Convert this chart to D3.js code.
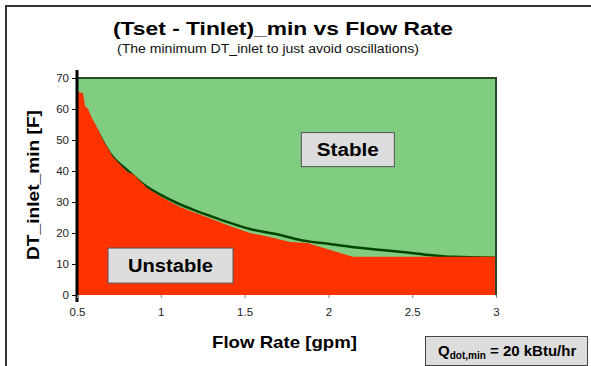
<!DOCTYPE html>
<html>
<head>
<meta charset="utf-8">
<script src="https://cdn.jsdelivr.net/npm/d3@7"></script>
<style>
  html, body { margin: 0; padding: 0; background: #fff; }
  svg { display: block; font-family: Arial, "Liberation Sans", sans-serif; }
</style>
</head>
<body>
<svg id="chart" width="591" height="366"></svg>
<script>
// Region below the minimum inlet temperature difference (oscillating operation)
const unstableFlow = [0.5, 0.5, 0.506, 0.536, 0.548, 0.566, 0.59, 0.62, 0.655, 0.715, 0.80, 0.834, 0.918, 1.013, 1.115, 1.2, 1.3, 1.4, 1.532, 1.651, 1.771, 1.878, 1.908, 2.147, 3.0, 3.0];
const unstableDT   = [0, 48, 65.5, 65.2, 61, 60, 57, 54, 50, 44.5, 39.7, 39, 34.5, 31.3, 28.4, 26.6, 24.6, 22.5, 20.0, 18.7, 17.1, 16.8, 16.2, 12.3, 12.3, 0];

// Stability boundary curve
const boundaryFlow = [0.62, 0.65, 0.7, 0.8, 0.9, 1.0, 1.1, 1.2, 1.3, 1.4, 1.532, 1.7, 1.835, 2.0, 2.14, 2.3, 2.44, 2.62, 2.74, 3.0];
const boundaryDT   = [53, 50, 45.5, 40.3, 35.6, 32.3, 29.6, 27.4, 25.4, 23.5, 21.3, 19.5, 17.7, 16.5, 15.5, 14.6, 13.9, 12.8, 12.3, 12.0];

const xTicks = [0.5, 1, 1.5, 2, 2.5, 3];
const yTicks = [0, 10, 20, 30, 40, 50, 60, 70];

const svg = d3.select("#chart");

const x = d3.scaleLinear().domain([0.5, 3]).range([77, 496]);
const y = d3.scaleLinear().domain([0, 70]).range([295, 78]);

// Outer frame (top and left edges)
svg.append("path")
  .attr("d", "M6,366 L6,6 L591,6")
  .attr("fill", "none").attr("stroke", "#333").attr("stroke-width", 2);

// Titles
svg.append("text").attr("x", 283).attr("y", 35).attr("text-anchor", "middle")
  .attr("font-size", 18).attr("font-weight", "bold").attr("fill", "#000")
  .attr("textLength", 340).attr("lengthAdjust", "spacingAndGlyphs")
  .text("(Tset - Tinlet)_min vs Flow Rate");
svg.append("text").attr("x", 268).attr("y", 53).attr("text-anchor", "middle")
  .attr("font-size", 12.5).attr("fill", "#111")
  .attr("textLength", 302).attr("lengthAdjust", "spacingAndGlyphs")
  .text("(The minimum DT_inlet to just avoid oscillations)");

// Stable background (whole plot area)
svg.append("rect")
  .attr("x", x(0.5)).attr("y", y(70))
  .attr("width", x(3) - x(0.5)).attr("height", y(0) - y(70))
  .attr("fill", "#80cc80");

// Boundary line
const boundary = boundaryFlow.map((f, i) => [f, boundaryDT[i]]);
svg.append("path")
  .datum(boundary)
  .attr("d", d3.line().x(d => x(d[0])).y(d => y(d[1])).curve(d3.curveMonotoneX))
  .attr("fill", "none").attr("stroke", "#004400").attr("stroke-width", 2.5);

// Unstable region
const unstable = unstableFlow.map((f, i) => [f, unstableDT[i]]);
svg.append("path")
  .datum(unstable)
  .attr("d", d3.line().x(d => x(d[0])).y(d => y(d[1])))
  .attr("fill", "#ff3300").attr("stroke", "none");

// Plot area border (top and right)
svg.append("path")
  .attr("d", `M${x(0.5)},${y(70)} L${x(3)},${y(70)} L${x(3)},${y(0)}`)
  .attr("fill", "none").attr("stroke", "#2a4a2a").attr("stroke-width", 2);

// Y axis
const yAxis = svg.append("g").attr("transform", `translate(${x(0.5)},0)`)
  .call(d3.axisLeft(y).tickValues(yTicks).tickSize(5).tickSizeOuter(0).tickPadding(3));
yAxis.select(".domain").remove();
yAxis.selectAll(".tick line").attr("stroke", "#000");
yAxis.selectAll(".tick text").attr("font-size", 11.5).attr("fill", "#222")
  .attr("font-family", "Arial, 'Liberation Sans', sans-serif");
svg.append("line")
  .attr("x1", x(0.5)).attr("x2", x(0.5))
  .attr("y1", y(70) - 8).attr("y2", y(0) + 7)
  .attr("stroke", "#000").attr("stroke-width", 3);

// X axis
const xAxis = svg.append("g").attr("transform", `translate(0,${y(0)})`)
  .call(d3.axisBottom(x).tickValues(xTicks).tickFormat(d3.format("")).tickSize(3).tickSizeOuter(0).tickPadding(10));
xAxis.select(".domain").remove();
xAxis.selectAll(".tick line").attr("stroke", "#888");
xAxis.selectAll(".tick text").attr("font-size", 11.5).attr("fill", "#222")
  .attr("font-family", "Arial, 'Liberation Sans', sans-serif");

// Axis titles
svg.append("text").attr("transform", "translate(39,185) rotate(-90)")
  .attr("text-anchor", "middle").attr("font-size", 17).attr("font-weight", "bold")
  .attr("textLength", 150).attr("lengthAdjust", "spacingAndGlyphs")
  .text("DT_inlet_min [F]");
svg.append("text").attr("x", 284.5).attr("y", 348).attr("text-anchor", "middle")
  .attr("font-size", 17).attr("font-weight", "bold")
  .attr("textLength", 145).attr("lengthAdjust", "spacingAndGlyphs")
  .text("Flow Rate [gpm]");

// Region labels
function labelBox(cx, cy, w, h, label, tw) {
  const g = svg.append("g");
  g.append("rect").attr("x", x(cx) - w / 2).attr("y", y(cy) - h / 2)
    .attr("width", w).attr("height", h)
    .attr("fill", "#dddddd").attr("stroke", "#555").attr("stroke-width", 1);
  g.append("text").attr("x", x(cx)).attr("y", y(cy) + 6.5)
    .attr("text-anchor", "middle").attr("font-size", 18).attr("font-weight", "bold")
    .attr("textLength", tw).attr("lengthAdjust", "spacingAndGlyphs")
    .text(label);
}
labelBox(2.116, 46.9, 93, 34, "Stable", 62);
labelBox(1.058, 9.5, 125, 35, "Unstable", 85);

// Heat rate note
const note = svg.append("g");
note.append("rect").attr("x", 425.5).attr("y", 336.5).attr("width", 162).attr("height", 29)
  .attr("fill", "#dddddd").attr("stroke", "#444").attr("stroke-width", 1);
const nt = note.append("text").attr("x", 438).attr("y", 356)
  .attr("font-size", 15).attr("font-weight", "bold");
nt.append("tspan").text("Q");
nt.append("tspan").attr("font-size", 10).attr("dy", 3).text("dot,min");
nt.append("tspan").attr("dy", -3).text(" = 20 kBtu/hr");
</script>
</body>
</html>
